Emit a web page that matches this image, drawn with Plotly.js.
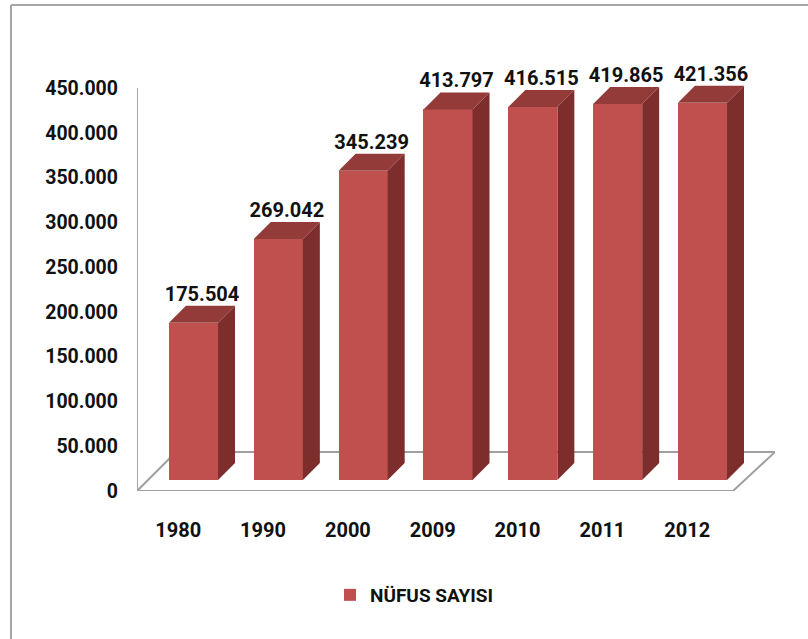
<!DOCTYPE html>
<html>
<head>
<meta charset="utf-8">
<script src="https://cdn.plot.ly/plotly-3.0.1.min.js"></script>
<style>
  html, body { margin: 0; padding: 0; background: #fff; }
  #chart { width: 808px; height: 639px; }
</style>
</head>
<body>
<div id="chart"></div>
<script>
// ---- data ----
const years = ['1980', '1990', '2000', '2009', '2010', '2011', '2012'];
const population = [175504, 269042, 345239, 413797, 416515, 419865, 421356];
const seriesName = 'NÜFUS SAYISI';
const yTicks = [0, 50000, 100000, 150000, 200000, 250000, 300000, 350000, 400000, 450000];
const yAxisMax = 450000;

// ---- styling / geometry (pixels of the 808x639 frame) ----
const plotLeft = 137, plotRight = 775, axisTop = 88, plotBottom = 491;
const plotTop = 40;             // plot area extends above the axis so labels fit
const xStep = 84.83;            // px between category centres
const firstCenter = 193.5;      // px centre of first bar front face
const pxPerUnit = (plotBottom - axisTop) / yAxisMax;
const barLift = 11;             // bars stand 11px above the front floor edge
const depthPx = 17;             // 3D depth offset
const barWidth = 0.578;

const idx = years.map((_, i) => i);
const xMin = (plotLeft - firstCenter) / xStep;
const xMax = (plotRight - firstCenter) / xStep;
const dx = depthPx / xStep;
const dy = depthPx / pxPerUnit;
const lift = barLift / pxPerUnit;
const yTop = (plotBottom - plotTop) / pxPerUnit;

const frontColor = '#C0504D', sideColor = '#7D2E2C', topColor = '#923B39';

// side and top faces built from the data values
const sideX = [], sideY = [], topX = [], topY = [];
idx.forEach(i => {
  const v = population[i];
  const xl = i - barWidth / 2, xr = i + barWidth / 2;
  sideX.push(xr, xr + dx, xr + dx, xr, xr, null);
  sideY.push(0, dy, v + dy, v, 0, null);
  topX.push(xl, xl + dx, xr + dx, xr, xl, null);
  topY.push(v, v + dy, v + dy, v, v, null);
});

const fmt = n => n.toLocaleString('de-DE');
const font = 'Roboto, "Liberation Sans", sans-serif';

const traces = [
  {
    type: 'bar', x: idx, y: population, width: barWidth, yaxis: 'y2',
    name: seriesName, marker: { color: frontColor, line: { width: 0 } },
    hoverinfo: 'skip', showlegend: true
  },
  {
    type: 'scatter', mode: 'lines', x: sideX, y: sideY, yaxis: 'y2',
    fill: 'toself', fillcolor: sideColor, line: { width: 0, color: sideColor },
    hoverinfo: 'skip', showlegend: false
  },
  {
    type: 'scatter', mode: 'lines', x: topX, y: topY, yaxis: 'y2',
    fill: 'toself', fillcolor: topColor, line: { width: 0, color: topColor },
    hoverinfo: 'skip', showlegend: false
  },
  {
    type: 'scatter', mode: 'text', x: idx.map(i => i + dx / 2), y: population.map(v => v + dy),
    yaxis: 'y2', text: population.map(fmt), textposition: 'top center',
    textfont: { family: font, size: 20, color: '#111', weight: 'bold' },
    cliponaxis: false, hoverinfo: 'skip', showlegend: false
  }
];

// floor parallelogram (decoration), in axis coordinates
const backY = (plotBottom - 452) / pxPerUnit;
const floorPath = 'M ' + xMin + ' 0 L ' + ((733 - firstCenter) / xStep) + ' 0 L ' +
  xMax + ' ' + backY + ' L ' + ((176 - firstCenter) / xStep) + ' ' + backY + ' Z';

const px2paperX = p => (p - plotLeft) / (plotRight - plotLeft);
const px2paperY = p => (plotBottom - p) / (plotBottom - plotTop);

const layout = {
  width: 808, height: 639,
  margin: { l: plotLeft, r: 808 - plotRight, t: plotTop, b: 639 - plotBottom, pad: 0 },
  paper_bgcolor: '#fff', plot_bgcolor: 'rgba(0,0,0,0)',
  separators: ',.',
  font: { family: font, size: 20, color: '#111' },
  xaxis: {
    range: [xMin, xMax], showgrid: false, zeroline: false, showline: false,
    tickmode: 'array', tickvals: idx.map(i => i - 0.18), ticktext: years,
    ticks: '', ticklabelstandoff: 25,
    tickfont: { family: font, size: 20, color: '#111', weight: 'bold' },
    fixedrange: true
  },
  yaxis: {
    range: [0, yTop], showgrid: false, zeroline: false, showline: false,
    tickmode: 'array', tickvals: yTicks, tickformat: ',d', ticks: '',
    ticklabelstandoff: 18,
    tickfont: { family: font, size: 19.5, color: '#111', weight: 'bold' },
    fixedrange: true
  },
  yaxis2: {
    overlaying: 'y', range: [-lift, yTop - lift], visible: false,
    showgrid: false, zeroline: false, fixedrange: true
  },
  bargap: 0,
  showlegend: true,
  legend: {
    orientation: 'h', x: px2paperX(330), xanchor: 'left', y: px2paperY(595), yanchor: 'middle',
    font: { family: font, size: 19, color: '#111', weight: 'bold' },
    bgcolor: 'rgba(0,0,0,0)'
  },
  shapes: [
    { type: 'path', path: floorPath, xref: 'x', yref: 'y', layer: 'below',
      fillcolor: '#fff', line: { color: '#A0A0A0', width: 2 } },
    // vertical axis line from 0 to the top tick
    { type: 'line', xref: 'x', yref: 'y', x0: xMin, x1: xMin, y0: 0, y1: yAxisMax,
      layer: 'below', line: { color: '#A6A6A6', width: 2 } },
    // outer chart frame (top and left edge)
    { type: 'line', xref: 'paper', yref: 'paper', x0: px2paperX(11), x1: px2paperX(808),
      y0: px2paperY(5), y1: px2paperY(5), line: { color: '#A6A6A6', width: 2 } },
    { type: 'line', xref: 'paper', yref: 'paper', x0: px2paperX(11), x1: px2paperX(11),
      y0: px2paperY(5), y1: px2paperY(639), line: { color: '#A6A6A6', width: 2 } }
  ]
};

Plotly.newPlot('chart', traces, layout, { displayModeBar: false, staticPlot: true });
</script>
</body>
</html>
